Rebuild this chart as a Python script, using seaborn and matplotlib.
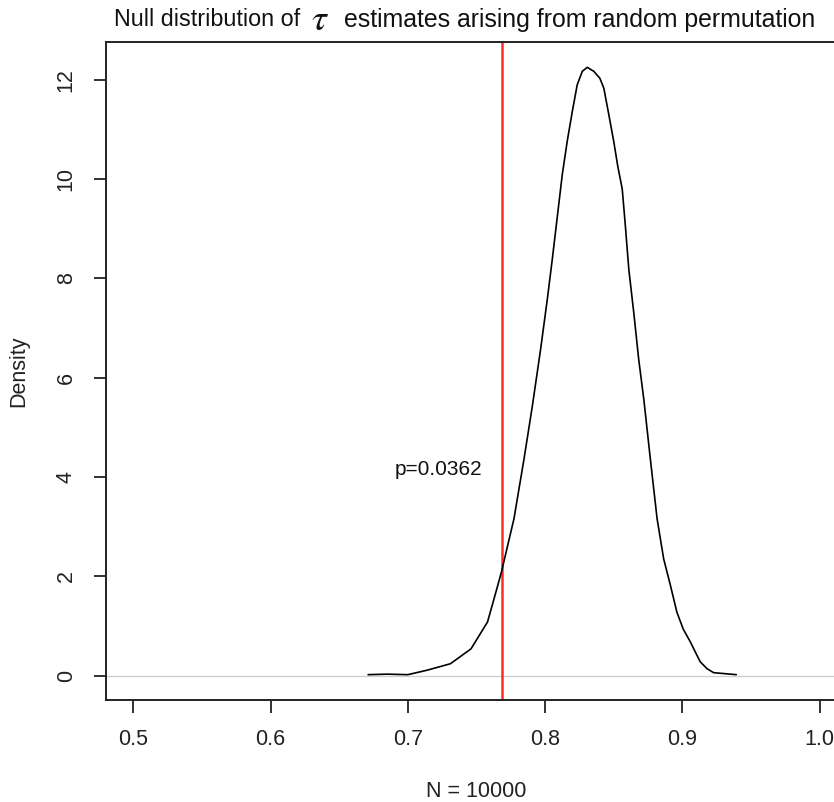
import numpy as np
import pandas as pd
from matplotlib import pyplot as plt
import seaborn as sns

# density curve (tau, density)
tau = [0.671, 0.685, 0.700, 0.714, 0.731, 0.746, 0.758, 0.7628, 0.7681, 0.7773,
       0.7846, 0.7907, 0.7967, 0.8016, 0.8052, 0.8125, 0.8161, 0.8198, 0.8234,
       0.8271, 0.8307, 0.8355, 0.8399, 0.8428, 0.8464, 0.850, 0.853, 0.8562,
       0.8585, 0.861, 0.8646, 0.8682, 0.8719, 0.8767, 0.8816, 0.8864, 0.8913,
       0.896, 0.9006, 0.9058, 0.913, 0.918, 0.9228, 0.9393]
density = [0.02, 0.03, 0.02, 0.11, 0.24, 0.54, 1.08, 1.55, 2.08, 3.16,
           4.36, 5.43, 6.57, 7.58, 8.38, 10.09, 10.76, 11.36, 11.9,
           12.17, 12.25, 12.17, 12.03, 11.83, 11.3, 10.76, 10.25, 9.8,
           9.05, 8.18, 7.31, 6.37, 5.57, 4.36, 3.16, 2.35, 1.82,
           1.28, 0.94, 0.68, 0.28, 0.14, 0.06, 0.02]

observed = 0.7683
p_label = "p=0.0362"
x_ticks = [0.5, 0.6, 0.7, 0.8, 0.9, 1.0]
y_ticks = [0, 2, 4, 6, 8, 10, 12]

sns.set_theme(style="white")
plt.rcParams["font.family"] = ["Liberation Sans", "DejaVu Sans"]
plt.rcParams["mathtext.fontset"] = "stix"

df = pd.DataFrame({"tau": tau, "density": density})

fig = plt.figure(figsize=(8.34, 8.02), dpi=100)
ax = fig.add_axes([0.1271, 0.1272, 0.8885, 0.8204])

ax.axhline(0, color="#cccccc", lw=0.9, zorder=1)
sns.lineplot(data=df, x="tau", y="density", sort=False, color="black", lw=1.2, ax=ax, zorder=3)
ax.axvline(observed, color="#ff2a2a", lw=1.8, zorder=2)
ax.text(0.7225, 4.16, p_label, ha="center", va="center", fontsize=15, color="#111111")

ax.set_xlim(0.48, 1.02)
ax.set_ylim(-0.49, 12.76)
ax.set_xticks(x_ticks)
ax.set_xticklabels(["0.5", "0.6", "0.7", "0.8", "0.9", "1.0"])
ax.set_yticks(y_ticks)
ax.set_yticklabels([str(v) for v in y_ticks], rotation=90, va="center")
ax.tick_params(axis="both", direction="out", length=9, width=1.3, color="#222222",
               labelsize=15.5, labelcolor="#222222", pad=12, left=True, bottom=True)

for s in ax.spines.values():
    s.set_color("#222222")
    s.set_linewidth(1.4)

ax.set_xlabel("N = 10000", fontsize=15.5, color="#222222", labelpad=22)
ax.set_ylabel("Density", fontsize=15.5, color="#222222", labelpad=19)

# title in three pieces so the tau can be drawn larger, as in the original
fig.text(0.3597, 0.9755, "Null distribution of", ha="right", va="center",
         fontsize=16.8, color="#111111")
fig.text(0.3837, 0.9755, r"$\tau$", ha="center", va="center", fontsize=27, color="#111111")
fig.text(0.4125, 0.9755, "estimates arising from random permutation", ha="left", va="center",
         fontsize=17.9, color="#111111")

fig.savefig("out.png", dpi=100)
